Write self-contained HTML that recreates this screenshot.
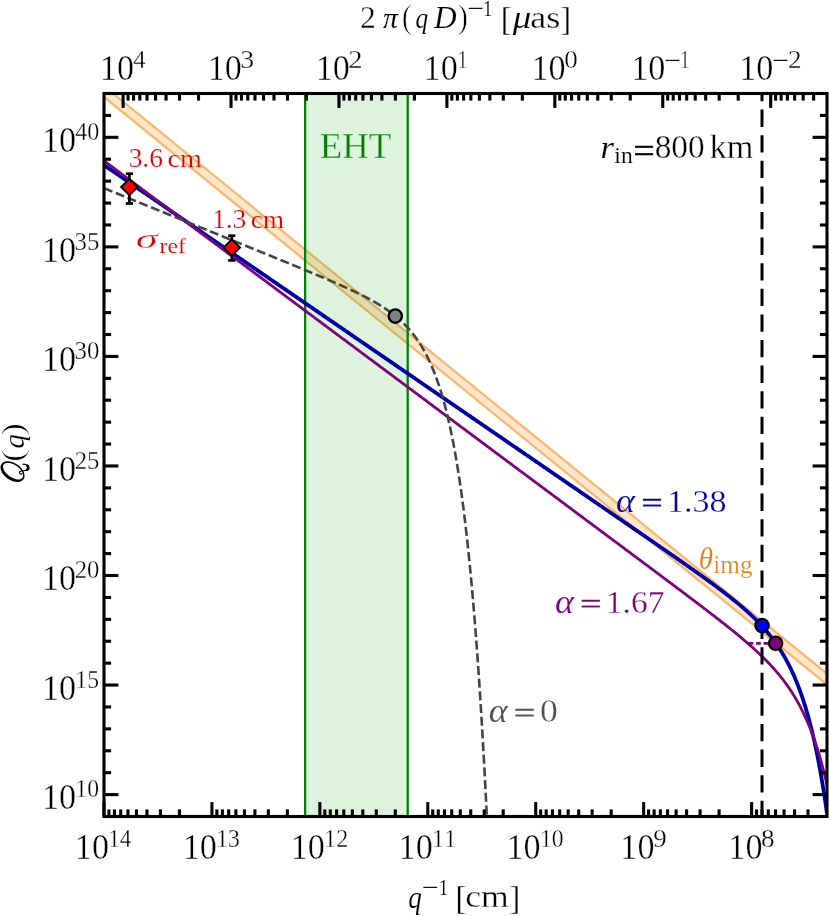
<!DOCTYPE html>
<html><head><meta charset="utf-8"><title>Q(q) power spectrum</title>
<style>html,body{margin:0;padding:0;background:#fff;}body{width:830px;height:916px;overflow:hidden;font-family:"Liberation Serif",serif;}svg{display:block;position:absolute;left:0;top:0;will-change:transform;}</style></head>
<body>
<svg width="830" height="916" viewBox="0 0 830 916">
<defs><clipPath id="ax"><rect x="104.00" y="93.50" width="723.00" height="723.00"/></clipPath></defs>
<g clip-path="url(#ax)">
<polygon points="84.00,69.91 847.00,690.00 847.00,700.82 84.00,80.73" fill="#ffe6cc"/>
<line x1="84.00" y1="69.91" x2="847.00" y2="690.00" stroke="#ffb366" stroke-width="2.2"/>
<line x1="84.00" y1="80.73" x2="847.00" y2="700.82" stroke="#ffb366" stroke-width="2.2"/>
<rect x="305.10" y="88.50" width="102.60" height="733.00" fill="#00a500" fill-opacity="0.135"/>
<line x1="305.10" y1="88.50" x2="305.10" y2="821.50" stroke="#008000" stroke-width="2.3"/>
<line x1="407.70" y1="88.50" x2="407.70" y2="821.50" stroke="#008000" stroke-width="2.3"/>
<polyline points="104.00,165.10 105.20,165.93 106.41,166.75 107.61,167.58 108.82,168.41 110.03,169.23 111.23,170.06 112.44,170.89 113.64,171.71 114.84,172.54 116.05,173.37 117.25,174.19 118.46,175.02 119.66,175.85 120.87,176.67 122.08,177.50 123.28,178.33 124.48,179.15 125.69,179.98 126.89,180.81 128.10,181.64 129.31,182.46 130.51,183.29 131.72,184.12 132.92,184.94 134.12,185.77 135.33,186.60 136.53,187.42 137.74,188.25 138.94,189.08 140.15,189.90 141.35,190.73 142.56,191.56 143.76,192.38 144.97,193.21 146.18,194.04 147.38,194.86 148.59,195.69 149.79,196.52 151.00,197.34 152.20,198.17 153.41,199.00 154.61,199.82 155.81,200.65 157.02,201.48 158.22,202.30 159.43,203.13 160.63,203.96 161.84,204.78 163.05,205.61 164.25,206.44 165.45,207.26 166.66,208.09 167.87,208.92 169.07,209.74 170.28,210.57 171.48,211.40 172.69,212.22 173.89,213.05 175.09,213.88 176.30,214.71 177.50,215.53 178.71,216.36 179.92,217.19 181.12,218.01 182.32,218.84 183.53,219.67 184.74,220.49 185.94,221.32 187.14,222.15 188.35,222.97 189.56,223.80 190.76,224.63 191.97,225.45 193.17,226.28 194.38,227.11 195.58,227.93 196.78,228.76 197.99,229.59 199.19,230.41 200.40,231.24 201.61,232.07 202.81,232.89 204.01,233.72 205.22,234.55 206.43,235.37 207.63,236.20 208.83,237.03 210.04,237.85 211.25,238.68 212.45,239.51 213.66,240.33 214.86,241.16 216.06,241.99 217.27,242.81 218.47,243.64 219.68,244.47 220.88,245.29 222.09,246.12 223.30,246.95 224.50,247.78 225.70,248.60 226.91,249.43 228.12,250.26 229.32,251.08 230.53,251.91 231.73,252.74 232.94,253.56 234.14,254.39 235.34,255.22 236.55,256.04 237.75,256.87 238.96,257.70 240.16,258.52 241.37,259.35 242.57,260.18 243.78,261.00 244.99,261.83 246.19,262.66 247.40,263.48 248.60,264.31 249.81,265.14 251.01,265.96 252.22,266.79 253.42,267.62 254.62,268.44 255.83,269.27 257.03,270.10 258.24,270.92 259.44,271.75 260.65,272.58 261.86,273.40 263.06,274.23 264.26,275.06 265.47,275.88 266.68,276.71 267.88,277.54 269.09,278.36 270.29,279.19 271.50,280.02 272.70,280.85 273.90,281.67 275.11,282.50 276.31,283.33 277.52,284.15 278.73,284.98 279.93,285.81 281.13,286.63 282.34,287.46 283.54,288.29 284.75,289.11 285.96,289.94 287.16,290.77 288.37,291.59 289.57,292.42 290.77,293.25 291.98,294.07 293.19,294.90 294.39,295.73 295.60,296.55 296.80,297.38 298.00,298.21 299.21,299.03 300.41,299.86 301.62,300.69 302.82,301.51 304.03,302.34 305.24,303.17 306.44,303.99 307.64,304.82 308.85,305.65 310.06,306.47 311.26,307.30 312.47,308.13 313.67,308.95 314.88,309.78 316.08,310.61 317.28,311.43 318.49,312.26 319.69,313.09 320.90,313.92 322.11,314.74 323.31,315.57 324.51,316.40 325.72,317.22 326.93,318.05 328.13,318.88 329.34,319.70 330.54,320.53 331.75,321.36 332.95,322.18 334.15,323.01 335.36,323.84 336.56,324.66 337.77,325.49 338.98,326.32 340.18,327.14 341.38,327.97 342.59,328.80 343.79,329.62 345.00,330.45 346.21,331.28 347.41,332.10 348.62,332.93 349.82,333.76 351.02,334.58 352.23,335.41 353.44,336.24 354.64,337.06 355.85,337.89 357.05,338.72 358.25,339.54 359.46,340.37 360.67,341.20 361.87,342.02 363.07,342.85 364.28,343.68 365.49,344.50 366.69,345.33 367.89,346.16 369.10,346.99 370.31,347.81 371.51,348.64 372.71,349.47 373.92,350.29 375.12,351.12 376.33,351.95 377.54,352.77 378.74,353.60 379.94,354.43 381.15,355.25 382.36,356.08 383.56,356.91 384.76,357.73 385.97,358.56 387.18,359.39 388.38,360.21 389.58,361.04 390.79,361.87 392.00,362.69 393.20,363.52 394.40,364.35 395.61,365.17 396.81,366.00 398.02,366.83 399.23,367.65 400.43,368.48 401.63,369.31 402.84,370.13 404.05,370.96 405.25,371.79 406.45,372.61 407.66,373.44 408.87,374.27 410.07,375.09 411.27,375.92 412.48,376.75 413.69,377.57 414.89,378.40 416.10,379.23 417.30,380.06 418.50,380.88 419.71,381.71 420.92,382.54 422.12,383.36 423.32,384.19 424.53,385.02 425.74,385.84 426.94,386.67 428.14,387.50 429.35,388.32 430.56,389.15 431.76,389.98 432.96,390.80 434.17,391.63 435.38,392.46 436.58,393.28 437.79,394.11 438.99,394.94 440.19,395.76 441.40,396.59 442.61,397.42 443.81,398.24 445.01,399.07 446.22,399.90 447.43,400.72 448.63,401.55 449.83,402.38 451.04,403.20 452.25,404.03 453.45,404.86 454.65,405.68 455.86,406.51 457.06,407.34 458.27,408.16 459.48,408.99 460.68,409.82 461.88,410.64 463.09,411.47 464.30,412.30 465.50,413.13 466.70,413.95 467.91,414.78 469.12,415.61 470.32,416.43 471.52,417.26 472.73,418.09 473.94,418.91 475.14,419.74 476.35,420.57 477.55,421.39 478.75,422.22 479.96,423.05 481.17,423.87 482.37,424.70 483.57,425.53 484.78,426.35 485.99,427.18 487.19,428.01 488.39,428.83 489.60,429.66 490.81,430.49 492.01,431.31 493.21,432.14 494.42,432.97 495.62,433.79 496.83,434.62 498.04,435.45 499.24,436.27 500.44,437.10 501.65,437.93 502.86,438.75 504.06,439.58 505.26,440.41 506.47,441.23 507.68,442.06 508.88,442.89 510.08,443.72 511.29,444.54 512.50,445.37 513.70,446.20 514.90,447.02 516.11,447.85 517.32,448.68 518.52,449.50 519.73,450.33 520.93,451.16 522.13,451.98 523.34,452.81 524.55,453.64 525.75,454.46 526.95,455.29 528.16,456.12 529.37,456.94 530.57,457.77 531.77,458.60 532.98,459.42 534.18,460.25 535.39,461.08 536.60,461.90 537.80,462.73 539.00,463.56 540.21,464.38 541.41,465.21 542.62,466.04 543.83,466.86 545.03,467.69 546.24,468.52 547.44,469.35 548.64,470.17 549.85,471.00 551.06,471.83 552.26,472.65 553.46,473.48 554.67,474.31 555.88,475.13 557.08,475.96 558.29,476.79 559.49,477.61 560.69,478.44 561.90,479.27 563.11,480.09 564.31,480.92 565.51,481.75 566.72,482.57 567.92,483.40 569.13,484.23 570.34,485.06 571.54,485.88 572.75,486.71 573.95,487.54 575.15,488.36 576.36,489.19 577.57,490.02 578.77,490.84 579.98,491.67 581.18,492.50 582.38,493.32 583.59,494.15 584.80,494.98 586.00,495.81 587.20,496.63 588.41,497.46 589.62,498.29 590.82,499.11 592.02,499.94 593.23,500.77 594.43,501.59 595.64,502.42 596.85,503.25 598.05,504.08 599.25,504.90 600.46,505.73 601.66,506.56 602.87,507.39 604.08,508.21 605.28,509.04 606.49,509.87 607.69,510.69 608.89,511.52 610.10,512.35 611.31,513.18 612.51,514.00 613.71,514.83 614.92,515.66 616.12,516.49 617.33,517.32 618.53,518.14 619.74,518.97 620.95,519.80 622.15,520.63 623.36,521.46 624.56,522.28 625.76,523.11 626.97,523.94 628.17,524.77 629.38,525.60 630.59,526.42 631.79,527.25 633.00,528.08 634.20,528.91 635.40,529.74 636.61,530.57 637.82,531.40 639.02,532.23 640.23,533.06 641.43,533.89 642.63,534.72 643.84,535.55 645.04,536.38 646.25,537.21 647.46,538.04 648.66,538.87 649.87,539.70 651.07,540.53 652.27,541.36 653.48,542.19 654.68,543.02 655.89,543.85 657.10,544.69 658.30,545.52 659.50,546.35 660.71,547.19 661.91,548.02 663.12,548.85 664.33,549.69 665.53,550.52 666.74,551.36 667.94,552.19 669.14,553.03 670.35,553.86 671.55,554.70 672.76,555.54 673.97,556.38 675.17,557.21 676.38,558.05 677.58,558.89 678.78,559.73 679.99,560.57 681.20,561.42 682.40,562.26 683.61,563.10 684.81,563.95 686.01,564.79 687.22,565.64 688.42,566.49 689.63,567.33 690.84,568.18 692.04,569.04 693.25,569.89 694.45,570.74 695.65,571.60 696.86,572.45 698.07,573.31 699.27,574.17 700.48,575.03 701.68,575.89 702.88,576.76 704.09,577.63 705.29,578.50 706.50,579.37 707.71,580.24 708.91,581.12 710.12,582.00 711.32,582.88 712.52,583.76 713.73,584.65 714.93,585.54 716.14,586.43 717.35,587.33 718.55,588.23 719.75,589.14 720.96,590.05 722.16,590.96 723.37,591.88 724.58,592.80 725.78,593.73 726.99,594.67 728.19,595.61 729.39,596.55 730.60,597.50 731.80,598.46 733.01,599.43 734.22,600.40 735.42,601.38 736.62,602.37 737.83,603.36 739.03,604.37 740.24,605.38 741.45,606.41 742.65,607.44 743.86,608.49 745.06,609.55 746.26,610.62 747.47,611.70 748.67,612.80 749.88,613.91 751.09,615.04 752.29,616.18 753.50,617.34 754.70,618.51 755.90,619.71 757.11,620.92 758.32,622.16 759.52,623.41 760.73,624.69 761.93,625.99 763.13,627.32 764.34,628.67 765.54,630.05 766.75,631.47 767.96,632.91 769.16,634.38 770.37,635.89 771.57,637.43 772.77,639.02 773.98,640.64 775.18,642.30 776.39,644.01 777.60,645.76 778.80,647.57 780.00,649.42 781.21,651.33 782.41,653.30 783.62,655.32 784.83,657.41 786.03,659.57 787.24,661.79 788.44,664.09 789.64,666.47 790.85,668.93 792.05,671.48 793.26,674.12 794.47,676.85 795.67,679.68 796.88,682.62 798.08,685.67 799.28,688.84 800.49,692.13 801.70,695.55 802.90,699.10 804.11,702.81 805.31,706.66 806.51,710.67 807.72,714.85 808.92,719.21 810.13,723.76 811.34,728.50 812.54,733.44 813.75,738.61 814.95,744.00 816.15,749.63 817.36,755.52 818.57,761.68 819.77,768.11 820.98,774.84 822.18,781.89 823.38,789.26 824.59,796.98 825.79,805.06 827.00,813.52" fill="none" stroke="#0000a8" stroke-width="3.8" stroke-linejoin="round"/>
<polyline points="104.00,160.80 105.20,161.70 106.41,162.60 107.61,163.49 108.82,164.39 110.03,165.29 111.23,166.19 112.44,167.08 113.64,167.98 114.84,168.88 116.05,169.78 117.25,170.67 118.46,171.57 119.66,172.47 120.87,173.37 122.08,174.27 123.28,175.16 124.48,176.06 125.69,176.96 126.89,177.86 128.10,178.75 129.31,179.65 130.51,180.55 131.72,181.45 132.92,182.35 134.12,183.24 135.33,184.14 136.53,185.04 137.74,185.94 138.94,186.83 140.15,187.73 141.35,188.63 142.56,189.53 143.76,190.42 144.97,191.32 146.18,192.22 147.38,193.12 148.59,194.02 149.79,194.91 151.00,195.81 152.20,196.71 153.41,197.61 154.61,198.50 155.81,199.40 157.02,200.30 158.22,201.20 159.43,202.10 160.63,202.99 161.84,203.89 163.05,204.79 164.25,205.69 165.45,206.58 166.66,207.48 167.87,208.38 169.07,209.28 170.28,210.17 171.48,211.07 172.69,211.97 173.89,212.87 175.09,213.77 176.30,214.66 177.50,215.56 178.71,216.46 179.92,217.36 181.12,218.25 182.32,219.15 183.53,220.05 184.74,220.95 185.94,221.85 187.14,222.74 188.35,223.64 189.56,224.54 190.76,225.44 191.97,226.33 193.17,227.23 194.38,228.13 195.58,229.03 196.78,229.92 197.99,230.82 199.19,231.72 200.40,232.62 201.61,233.52 202.81,234.41 204.01,235.31 205.22,236.21 206.43,237.11 207.63,238.00 208.83,238.90 210.04,239.80 211.25,240.70 212.45,241.60 213.66,242.49 214.86,243.39 216.06,244.29 217.27,245.19 218.47,246.08 219.68,246.98 220.88,247.88 222.09,248.78 223.30,249.67 224.50,250.57 225.70,251.47 226.91,252.37 228.12,253.27 229.32,254.16 230.53,255.06 231.73,255.96 232.94,256.86 234.14,257.75 235.34,258.65 236.55,259.55 237.75,260.45 238.96,261.35 240.16,262.24 241.37,263.14 242.57,264.04 243.78,264.94 244.99,265.83 246.19,266.73 247.40,267.63 248.60,268.53 249.81,269.42 251.01,270.32 252.22,271.22 253.42,272.12 254.62,273.02 255.83,273.91 257.03,274.81 258.24,275.71 259.44,276.61 260.65,277.50 261.86,278.40 263.06,279.30 264.26,280.20 265.47,281.10 266.68,281.99 267.88,282.89 269.09,283.79 270.29,284.69 271.50,285.58 272.70,286.48 273.90,287.38 275.11,288.28 276.31,289.17 277.52,290.07 278.73,290.97 279.93,291.87 281.13,292.77 282.34,293.66 283.54,294.56 284.75,295.46 285.96,296.36 287.16,297.25 288.37,298.15 289.57,299.05 290.77,299.95 291.98,300.85 293.19,301.74 294.39,302.64 295.60,303.54 296.80,304.44 298.00,305.33 299.21,306.23 300.41,307.13 301.62,308.03 302.82,308.92 304.03,309.82 305.24,310.72 306.44,311.62 307.64,312.52 308.85,313.41 310.06,314.31 311.26,315.21 312.47,316.11 313.67,317.00 314.88,317.90 316.08,318.80 317.28,319.70 318.49,320.60 319.69,321.49 320.90,322.39 322.11,323.29 323.31,324.19 324.51,325.08 325.72,325.98 326.93,326.88 328.13,327.78 329.34,328.67 330.54,329.57 331.75,330.47 332.95,331.37 334.15,332.27 335.36,333.16 336.56,334.06 337.77,334.96 338.98,335.86 340.18,336.75 341.38,337.65 342.59,338.55 343.79,339.45 345.00,340.35 346.21,341.24 347.41,342.14 348.62,343.04 349.82,343.94 351.02,344.83 352.23,345.73 353.44,346.63 354.64,347.53 355.85,348.42 357.05,349.32 358.25,350.22 359.46,351.12 360.67,352.02 361.87,352.91 363.07,353.81 364.28,354.71 365.49,355.61 366.69,356.50 367.89,357.40 369.10,358.30 370.31,359.20 371.51,360.09 372.71,360.99 373.92,361.89 375.12,362.79 376.33,363.69 377.54,364.58 378.74,365.48 379.94,366.38 381.15,367.28 382.36,368.17 383.56,369.07 384.76,369.97 385.97,370.87 387.18,371.77 388.38,372.66 389.58,373.56 390.79,374.46 392.00,375.36 393.20,376.25 394.40,377.15 395.61,378.05 396.81,378.95 398.02,379.84 399.23,380.74 400.43,381.64 401.63,382.54 402.84,383.44 404.05,384.33 405.25,385.23 406.45,386.13 407.66,387.03 408.87,387.92 410.07,388.82 411.27,389.72 412.48,390.62 413.69,391.52 414.89,392.41 416.10,393.31 417.30,394.21 418.50,395.11 419.71,396.00 420.92,396.90 422.12,397.80 423.32,398.70 424.53,399.59 425.74,400.49 426.94,401.39 428.14,402.29 429.35,403.19 430.56,404.08 431.76,404.98 432.96,405.88 434.17,406.78 435.38,407.67 436.58,408.57 437.79,409.47 438.99,410.37 440.19,411.27 441.40,412.16 442.61,413.06 443.81,413.96 445.01,414.86 446.22,415.75 447.43,416.65 448.63,417.55 449.83,418.45 451.04,419.34 452.25,420.24 453.45,421.14 454.65,422.04 455.86,422.94 457.06,423.83 458.27,424.73 459.48,425.63 460.68,426.53 461.88,427.42 463.09,428.32 464.30,429.22 465.50,430.12 466.70,431.02 467.91,431.91 469.12,432.81 470.32,433.71 471.52,434.61 472.73,435.50 473.94,436.40 475.14,437.30 476.35,438.20 477.55,439.09 478.75,439.99 479.96,440.89 481.17,441.79 482.37,442.69 483.57,443.58 484.78,444.48 485.99,445.38 487.19,446.28 488.39,447.17 489.60,448.07 490.81,448.97 492.01,449.87 493.21,450.77 494.42,451.66 495.62,452.56 496.83,453.46 498.04,454.36 499.24,455.25 500.44,456.15 501.65,457.05 502.86,457.95 504.06,458.84 505.26,459.74 506.47,460.64 507.68,461.54 508.88,462.44 510.08,463.33 511.29,464.23 512.50,465.13 513.70,466.03 514.90,466.92 516.11,467.82 517.32,468.72 518.52,469.62 519.73,470.52 520.93,471.41 522.13,472.31 523.34,473.21 524.55,474.11 525.75,475.00 526.95,475.90 528.16,476.80 529.37,477.70 530.57,478.59 531.77,479.49 532.98,480.39 534.18,481.29 535.39,482.19 536.60,483.08 537.80,483.98 539.00,484.88 540.21,485.78 541.41,486.67 542.62,487.57 543.83,488.47 545.03,489.37 546.24,490.27 547.44,491.16 548.64,492.06 549.85,492.96 551.06,493.86 552.26,494.75 553.46,495.65 554.67,496.55 555.88,497.45 557.08,498.35 558.29,499.24 559.49,500.14 560.69,501.04 561.90,501.94 563.11,502.83 564.31,503.73 565.51,504.63 566.72,505.53 567.92,506.43 569.13,507.32 570.34,508.22 571.54,509.12 572.75,510.02 573.95,510.91 575.15,511.81 576.36,512.71 577.57,513.61 578.77,514.51 579.98,515.40 581.18,516.30 582.38,517.20 583.59,518.10 584.80,519.00 586.00,519.89 587.20,520.79 588.41,521.69 589.62,522.59 590.82,523.48 592.02,524.38 593.23,525.28 594.43,526.18 595.64,527.08 596.85,527.97 598.05,528.87 599.25,529.77 600.46,530.67 601.66,531.57 602.87,532.46 604.08,533.36 605.28,534.26 606.49,535.16 607.69,536.06 608.89,536.95 610.10,537.85 611.31,538.75 612.51,539.65 613.71,540.55 614.92,541.45 616.12,542.34 617.33,543.24 618.53,544.14 619.74,545.04 620.95,545.94 622.15,546.84 623.36,547.73 624.56,548.63 625.76,549.53 626.97,550.43 628.17,551.33 629.38,552.23 630.59,553.13 631.79,554.02 633.00,554.92 634.20,555.82 635.40,556.72 636.61,557.62 637.82,558.52 639.02,559.42 640.23,560.32 641.43,561.22 642.63,562.12 643.84,563.02 645.04,563.91 646.25,564.81 647.46,565.71 648.66,566.61 649.87,567.51 651.07,568.41 652.27,569.31 653.48,570.21 654.68,571.12 655.89,572.02 657.10,572.92 658.30,573.82 659.50,574.72 660.71,575.62 661.91,576.52 663.12,577.42 664.33,578.32 665.53,579.23 666.74,580.13 667.94,581.03 669.14,581.93 670.35,582.84 671.55,583.74 672.76,584.64 673.97,585.55 675.17,586.45 676.38,587.36 677.58,588.26 678.78,589.17 679.99,590.07 681.20,590.98 682.40,591.89 683.61,592.79 684.81,593.70 686.01,594.61 687.22,595.52 688.42,596.43 689.63,597.34 690.84,598.25 692.04,599.16 693.25,600.07 694.45,600.98 695.65,601.90 696.86,602.81 698.07,603.73 699.27,604.64 700.48,605.56 701.68,606.48 702.88,607.40 704.09,608.32 705.29,609.24 706.50,610.16 707.71,611.09 708.91,612.01 710.12,612.94 711.32,613.87 712.52,614.80 713.73,615.73 714.93,616.66 716.14,617.60 717.35,618.53 718.55,619.47 719.75,620.42 720.96,621.36 722.16,622.31 723.37,623.26 724.58,624.21 725.78,625.16 726.99,626.12 728.19,627.08 729.39,628.04 730.60,629.01 731.80,629.98 733.01,630.96 734.22,631.94 735.42,632.92 736.62,633.91 737.83,634.90 739.03,635.90 740.24,636.90 741.45,637.91 742.65,638.93 743.86,639.95 745.06,640.97 746.26,642.01 747.47,643.05 748.67,644.10 749.88,645.16 751.09,646.22 752.29,647.30 753.50,648.38 754.70,649.47 755.90,650.58 757.11,651.69 758.32,652.82 759.52,653.95 760.73,655.10 761.93,656.27 763.13,657.45 764.34,658.64 765.54,659.85 766.75,661.07 767.96,662.31 769.16,663.57 770.37,664.85 771.57,666.15 772.77,667.47 773.98,668.81 775.18,670.18 776.39,671.57 777.60,672.99 778.80,674.43 780.00,675.91 781.21,677.41 782.41,678.95 783.62,680.51 784.83,682.12 786.03,683.76 787.24,685.44 788.44,687.16 789.64,688.93 790.85,690.74 792.05,692.60 793.26,694.51 794.47,696.48 795.67,698.50 796.88,700.58 798.08,702.72 799.28,704.93 800.49,707.20 801.70,709.55 802.90,711.98 804.11,714.49 805.31,717.08 806.51,719.76 807.72,722.53 808.92,725.41 810.13,728.39 811.34,731.48 812.54,734.68 813.75,738.01 814.95,741.46 816.15,745.05 817.36,748.78 818.57,752.66 819.77,756.70 820.98,760.90 822.18,765.28 823.38,769.84 824.59,774.59 825.79,779.55 827.00,784.72" fill="none" stroke="#800080" stroke-width="2.8" stroke-linejoin="round"/>
<polyline points="104.00,188.20 104.48,188.40 104.96,188.59 105.45,188.79 105.93,188.98 106.41,189.18 106.89,189.37 107.37,189.57 107.86,189.77 108.34,189.96 108.82,190.16 109.30,190.35 109.78,190.55 110.27,190.74 110.75,190.94 111.23,191.14 111.71,191.33 112.19,191.53 112.68,191.72 113.16,191.92 113.64,192.11 114.12,192.31 114.60,192.51 115.09,192.70 115.57,192.90 116.05,193.09 116.53,193.29 117.01,193.48 117.50,193.68 117.98,193.88 118.46,194.07 118.94,194.27 119.42,194.46 119.91,194.66 120.39,194.85 120.87,195.05 121.35,195.24 121.83,195.44 122.32,195.64 122.80,195.83 123.28,196.03 123.76,196.22 124.24,196.42 124.73,196.61 125.21,196.81 125.69,197.01 126.17,197.20 126.65,197.40 127.14,197.59 127.62,197.79 128.10,197.98 128.58,198.18 129.06,198.38 129.55,198.57 130.03,198.77 130.51,198.96 130.99,199.16 131.47,199.35 131.96,199.55 132.44,199.75 132.92,199.94 133.40,200.14 133.88,200.33 134.37,200.53 134.85,200.72 135.33,200.92 135.81,201.12 136.29,201.31 136.78,201.51 137.26,201.70 137.74,201.90 138.22,202.09 138.70,202.29 139.19,202.49 139.67,202.68 140.15,202.88 140.63,203.07 141.11,203.27 141.60,203.46 142.08,203.66 142.56,203.86 143.04,204.05 143.52,204.25 144.01,204.44 144.49,204.64 144.97,204.83 145.45,205.03 145.93,205.23 146.42,205.42 146.90,205.62 147.38,205.81 147.86,206.01 148.34,206.20 148.83,206.40 149.31,206.60 149.79,206.79 150.27,206.99 150.75,207.18 151.24,207.38 151.72,207.57 152.20,207.77 152.68,207.97 153.16,208.16 153.65,208.36 154.13,208.55 154.61,208.75 155.09,208.94 155.57,209.14 156.06,209.34 156.54,209.53 157.02,209.73 157.50,209.92 157.98,210.12 158.47,210.31 158.95,210.51 159.43,210.70 159.91,210.90 160.39,211.10 160.88,211.29 161.36,211.49 161.84,211.68 162.32,211.88 162.80,212.07 163.29,212.27 163.77,212.47 164.25,212.66 164.73,212.86 165.21,213.05 165.70,213.25 166.18,213.44 166.66,213.64 167.14,213.84 167.62,214.03 168.11,214.23 168.59,214.42 169.07,214.62 169.55,214.81 170.03,215.01 170.52,215.21 171.00,215.40 171.48,215.60 171.96,215.79 172.44,215.99 172.93,216.18 173.41,216.38 173.89,216.58 174.37,216.77 174.85,216.97 175.34,217.16 175.82,217.36 176.30,217.55 176.78,217.75 177.26,217.95 177.75,218.14 178.23,218.34 178.71,218.53 179.19,218.73 179.67,218.92 180.16,219.12 180.64,219.32 181.12,219.51 181.60,219.71 182.08,219.90 182.57,220.10 183.05,220.29 183.53,220.49 184.01,220.69 184.49,220.88 184.98,221.08 185.46,221.27 185.94,221.47 186.42,221.66 186.90,221.86 187.39,222.06 187.87,222.25 188.35,222.45 188.83,222.64 189.31,222.84 189.80,223.03 190.28,223.23 190.76,223.43 191.24,223.62 191.72,223.82 192.21,224.01 192.69,224.21 193.17,224.40 193.65,224.60 194.13,224.80 194.62,224.99 195.10,225.19 195.58,225.38 196.06,225.58 196.54,225.77 197.03,225.97 197.51,226.17 197.99,226.36 198.47,226.56 198.95,226.75 199.44,226.95 199.92,227.14 200.40,227.34 200.88,227.54 201.36,227.73 201.85,227.93 202.33,228.12 202.81,228.32 203.29,228.52 203.77,228.71 204.26,228.91 204.74,229.10 205.22,229.30 205.70,229.49 206.18,229.69 206.67,229.89 207.15,230.08 207.63,230.28 208.11,230.47 208.59,230.67 209.08,230.86 209.56,231.06 210.04,231.26 210.52,231.45 211.00,231.65 211.49,231.84 211.97,232.04 212.45,232.23 212.93,232.43 213.41,232.63 213.90,232.82 214.38,233.02 214.86,233.21 215.34,233.41 215.82,233.61 216.31,233.80 216.79,234.00 217.27,234.19 217.75,234.39 218.23,234.58 218.72,234.78 219.20,234.98 219.68,235.17 220.16,235.37 220.64,235.56 221.13,235.76 221.61,235.95 222.09,236.15 222.57,236.35 223.05,236.54 223.54,236.74 224.02,236.93 224.50,237.13 224.98,237.33 225.46,237.52 225.95,237.72 226.43,237.91 226.91,238.11 227.39,238.30 227.87,238.50 228.36,238.70 228.84,238.89 229.32,239.09 229.80,239.28 230.28,239.48 230.77,239.68 231.25,239.87 231.73,240.07 232.21,240.26 232.69,240.46 233.18,240.65 233.66,240.85 234.14,241.05 234.62,241.24 235.10,241.44 235.59,241.63 236.07,241.83 236.55,242.03 237.03,242.22 237.51,242.42 238.00,242.61 238.48,242.81 238.96,243.01 239.44,243.20 239.92,243.40 240.41,243.59 240.89,243.79 241.37,243.99 241.85,244.18 242.33,244.38 242.82,244.57 243.30,244.77 243.78,244.97 244.26,245.16 244.74,245.36 245.23,245.55 245.71,245.75 246.19,245.95 246.67,246.14 247.15,246.34 247.64,246.53 248.12,246.73 248.60,246.93 249.08,247.12 249.56,247.32 250.05,247.51 250.53,247.71 251.01,247.91 251.49,248.10 251.97,248.30 252.46,248.49 252.94,248.69 253.42,248.89 253.90,249.08 254.38,249.28 254.87,249.48 255.35,249.67 255.83,249.87 256.31,250.06 256.79,250.26 257.28,250.46 257.76,250.65 258.24,250.85 258.72,251.05 259.20,251.24 259.69,251.44 260.17,251.63 260.65,251.83 261.13,252.03 261.61,252.22 262.10,252.42 262.58,252.62 263.06,252.81 263.54,253.01 264.02,253.20 264.51,253.40 264.99,253.60 265.47,253.79 265.95,253.99 266.43,254.19 266.92,254.38 267.40,254.58 267.88,254.78 268.36,254.97 268.84,255.17 269.33,255.37 269.81,255.56 270.29,255.76 270.77,255.96 271.25,256.15 271.74,256.35 272.22,256.55 272.70,256.74 273.18,256.94 273.66,257.14 274.15,257.33 274.63,257.53 275.11,257.73 275.59,257.92 276.07,258.12 276.56,258.32 277.04,258.51 277.52,258.71 278.00,258.91 278.48,259.11 278.97,259.30 279.45,259.50 279.93,259.70 280.41,259.89 280.89,260.09 281.38,260.29 281.86,260.49 282.34,260.68 282.82,260.88 283.30,261.08 283.79,261.27 284.27,261.47 284.75,261.67 285.23,261.87 285.71,262.06 286.20,262.26 286.68,262.46 287.16,262.66 287.64,262.85 288.12,263.05 288.61,263.25 289.09,263.45 289.57,263.65 290.05,263.84 290.53,264.04 291.02,264.24 291.50,264.44 291.98,264.64 292.46,264.83 292.94,265.03 293.43,265.23 293.91,265.43 294.39,265.63 294.87,265.83 295.35,266.02 295.84,266.22 296.32,266.42 296.80,266.62 297.28,266.82 297.76,267.02 298.25,267.22 298.73,267.41 299.21,267.61 299.69,267.81 300.17,268.01 300.66,268.21 301.14,268.41 301.62,268.61 302.10,268.81 302.58,269.01 303.07,269.21 303.55,269.41 304.03,269.61 304.51,269.81 304.99,270.01 305.48,270.21 305.96,270.41 306.44,270.61 306.92,270.81 307.40,271.01 307.89,271.21 308.37,271.41 308.85,271.61 309.33,271.81 309.81,272.01 310.30,272.21 310.78,272.41 311.26,272.61 311.74,272.81 312.22,273.01 312.71,273.22 313.19,273.42 313.67,273.62 314.15,273.82 314.63,274.02 315.12,274.22 315.60,274.43 316.08,274.63 316.56,274.83 317.04,275.03 317.53,275.24 318.01,275.44 318.49,275.64 318.97,275.85 319.45,276.05 319.94,276.25 320.42,276.46 320.90,276.66 321.38,276.86 321.86,277.07 322.35,277.27 322.83,277.48 323.31,277.68 323.79,277.89 324.27,278.09 324.76,278.30 325.24,278.50 325.72,278.71 326.20,278.91 326.68,279.12 327.17,279.33 327.65,279.53 328.13,279.74 328.61,279.95 329.09,280.15 329.58,280.36 330.06,280.57 330.54,280.78 331.02,280.98 331.50,281.19 331.99,281.40 332.47,281.61 332.95,281.82 333.43,282.03 333.91,282.24 334.40,282.45 334.88,282.66 335.36,282.87 335.84,283.08 336.32,283.29 336.81,283.50 337.29,283.72 337.77,283.93 338.25,284.14 338.73,284.35 339.22,284.57 339.70,284.78 340.18,284.99 340.66,285.21 341.14,285.42 341.63,285.64 342.11,285.86 342.59,286.07 343.07,286.29 343.55,286.50 344.04,286.72 344.52,286.94 345.00,287.16 345.48,287.38 345.96,287.60 346.45,287.82 346.93,288.04 347.41,288.26 347.89,288.48 348.37,288.70 348.86,288.92 349.34,289.15 349.82,289.37 350.30,289.59 350.78,289.82 351.27,290.04 351.75,290.27 352.23,290.50 352.71,290.72 353.19,290.95 353.68,291.18 354.16,291.41 354.64,291.64 355.12,291.87 355.60,292.10 356.09,292.33 356.57,292.57 357.05,292.80 357.53,293.03 358.01,293.27 358.50,293.50 358.98,293.74 359.46,293.98 359.94,294.22 360.42,294.46 360.91,294.70 361.39,294.94 361.87,295.18 362.35,295.42 362.83,295.67 363.32,295.91 363.80,296.16 364.28,296.41 364.76,296.65 365.24,296.90 365.73,297.15 366.21,297.41 366.69,297.66 367.17,297.91 367.65,298.17 368.14,298.42 368.62,298.68 369.10,298.94 369.58,299.20 370.06,299.46 370.55,299.73 371.03,299.99 371.51,300.26 371.99,300.52 372.47,300.79 372.96,301.06 373.44,301.34 373.92,301.61 374.40,301.88 374.88,302.16 375.37,302.44 375.85,302.72 376.33,303.00 376.81,303.28 377.29,303.57 377.78,303.86 378.26,304.15 378.74,304.44 379.22,304.73 379.70,305.03 380.19,305.32 380.67,305.62 381.15,305.93 381.63,306.23 382.11,306.54 382.60,306.84 383.08,307.15 383.56,307.47 384.04,307.78 384.52,308.10 385.01,308.42 385.49,308.74 385.97,309.07 386.45,309.40 386.93,309.73 387.42,310.06 387.90,310.40 388.38,310.74 388.86,311.08 389.34,311.43 389.83,311.78 390.31,312.13 390.79,312.49 391.27,312.84 391.75,313.21 392.24,313.57 392.72,313.94 393.20,314.31 393.68,314.69 394.16,315.07 394.65,315.46 395.13,315.84 395.61,316.24 396.09,316.63 396.57,317.03 397.06,317.44 397.54,317.84 398.02,318.26 398.50,318.68 398.98,319.10 399.47,319.53 399.95,319.96 400.43,320.39 400.91,320.84 401.39,321.28 401.88,321.73 402.36,322.19 402.84,322.65 403.32,323.12 403.80,323.60 404.29,324.08 404.77,324.56 405.25,325.05 405.73,325.55 406.21,326.06 406.70,326.57 407.18,327.09 407.66,327.61 408.14,328.14 408.62,328.68 409.11,329.22 409.59,329.77 410.07,330.33 410.55,330.90 411.03,331.48 411.52,332.06 412.00,332.65 412.48,333.25 412.96,333.85 413.44,334.47 413.93,335.09 414.41,335.73 414.89,336.37 415.37,337.02 415.85,337.68 416.34,338.35 416.82,339.04 417.30,339.73 417.78,340.43 418.26,341.14 418.75,341.86 419.23,342.59 419.71,343.34 420.19,344.10 420.67,344.86 421.16,345.64 421.64,346.43 422.12,347.24 422.60,348.05 423.08,348.88 423.57,349.73 424.05,350.58 424.53,351.45 425.01,352.34 425.49,353.23 425.98,354.15 426.46,355.07 426.94,356.02 427.42,356.98 427.90,357.95 428.39,358.94 428.87,359.95 429.35,360.97 429.83,362.01 430.31,363.07 430.80,364.15 431.28,365.24 431.76,366.36 432.24,367.49 432.72,368.64 433.21,369.81 433.69,371.00 434.17,372.22 434.65,373.45 435.13,374.71 435.62,375.98 436.10,377.28 436.58,378.61 437.06,379.95 437.54,381.32 438.03,382.72 438.51,384.14 438.99,385.58 439.47,387.05 439.95,388.55 440.44,390.08 440.92,391.63 441.40,393.21 441.88,394.82 442.36,396.46 442.85,398.13 443.33,399.82 443.81,401.55 444.29,403.32 444.77,405.11 445.26,406.94 445.74,408.80 446.22,410.70 446.70,412.63 447.18,414.60 447.67,416.60 448.15,418.65 448.63,420.73 449.11,422.85 449.59,425.01 450.08,427.21 450.56,429.45 451.04,431.73 451.52,434.06 452.00,436.44 452.49,438.85 452.97,441.32 453.45,443.83 453.93,446.39 454.41,449.00 454.90,451.66 455.38,454.36 455.86,457.13 456.34,459.94 456.82,462.81 457.31,465.74 457.79,468.72 458.27,471.76 458.75,474.86 459.23,478.02 459.72,481.24 460.20,484.52 460.68,487.87 461.16,491.28 461.64,494.76 462.13,498.31 462.61,501.93 463.09,505.62 463.57,509.38 464.05,513.22 464.54,517.13 465.02,521.12 465.50,525.19 465.98,529.34 466.46,533.57 466.95,537.88 467.43,542.28 467.91,546.77 468.39,551.34 468.87,556.01 469.36,560.77 469.84,565.63 470.32,570.58 470.80,575.63 471.28,580.78 471.77,586.03 472.25,591.39 472.73,596.86 473.21,602.44 473.69,608.13 474.18,613.93 474.66,619.85 475.14,625.89 475.62,632.05 476.10,638.33 476.59,644.74 477.07,651.28 477.55,657.95 478.03,664.75 478.51,671.70 479.00,678.78 479.48,686.00 479.96,693.38 480.44,700.90 480.92,708.57 481.41,716.40 481.89,724.39 482.37,732.53 482.85,740.85 483.33,749.33 483.82,757.99 484.30,766.82 484.78,775.83 485.26,785.02 485.74,794.40 486.23,803.97 486.71,813.74 487.19,823.71 487.67,833.87 488.15,844.25 488.64,854.84 489.12,865.64" fill="none" stroke="#444444" stroke-width="2.6" stroke-dasharray="9.0 3.7" stroke-linejoin="round"/>
<line x1="762.00" y1="818.10" x2="762.00" y2="63.50" stroke="#000" stroke-width="3.0" stroke-dasharray="17.3 8.3" stroke-dashoffset="0.00"/>
<line x1="748.6" y1="643.3" x2="775" y2="643.3" stroke="#800080" stroke-width="2.8" stroke-dasharray="4.7 2.8"/>
</g>
<circle cx="395.30" cy="316.10" r="6.65" fill="#808080" stroke="#000" stroke-width="2.3"/>
<circle cx="762.00" cy="625.60" r="6.65" fill="#0000ff" stroke="#000" stroke-width="2.3"/>
<circle cx="775.60" cy="643.30" r="6.65" fill="#800080" stroke="#000" stroke-width="2.3"/>
<g stroke="#000" stroke-width="2.7" fill="none">
<line x1="129.40" y1="173.70" x2="129.40" y2="203.50"/>
<line x1="125.80" y1="173.70" x2="133.00" y2="173.70"/>
<line x1="125.80" y1="203.50" x2="133.00" y2="203.50"/>
</g>
<polygon points="121.20,187.00 129.40,178.80 137.60,187.00 129.40,195.20" fill="#ff0000" stroke="#000" stroke-width="2.0" stroke-linejoin="miter"/>
<g stroke="#000" stroke-width="2.7" fill="none">
<line x1="231.80" y1="235.70" x2="231.80" y2="260.40"/>
<line x1="228.20" y1="235.70" x2="235.40" y2="235.70"/>
<line x1="228.20" y1="260.40" x2="235.40" y2="260.40"/>
</g>
<polygon points="223.60,247.60 231.80,239.40 240.00,247.60 231.80,255.80" fill="#ff0000" stroke="#000" stroke-width="2.0" stroke-linejoin="miter"/>
<g stroke="#000" stroke-width="3.10" fill="none" stroke-linecap="butt">
<rect x="104.00" y="93.50" width="723.00" height="723.00" stroke-linejoin="miter"/>
<line x1="104.00" y1="816.50" x2="104.00" y2="802.10"/>
<line x1="179.44" y1="816.50" x2="179.44" y2="809.40"/>
<line x1="160.43" y1="816.50" x2="160.43" y2="809.40"/>
<line x1="146.95" y1="816.50" x2="146.95" y2="809.40"/>
<line x1="136.49" y1="816.50" x2="136.49" y2="809.40"/>
<line x1="127.94" y1="816.50" x2="127.94" y2="809.40"/>
<line x1="120.72" y1="816.50" x2="120.72" y2="809.40"/>
<line x1="114.46" y1="816.50" x2="114.46" y2="809.40"/>
<line x1="108.94" y1="816.50" x2="108.94" y2="809.40"/>
<line x1="211.93" y1="816.50" x2="211.93" y2="802.10"/>
<line x1="287.37" y1="816.50" x2="287.37" y2="809.40"/>
<line x1="268.36" y1="816.50" x2="268.36" y2="809.40"/>
<line x1="254.88" y1="816.50" x2="254.88" y2="809.40"/>
<line x1="244.42" y1="816.50" x2="244.42" y2="809.40"/>
<line x1="235.87" y1="816.50" x2="235.87" y2="809.40"/>
<line x1="228.65" y1="816.50" x2="228.65" y2="809.40"/>
<line x1="222.39" y1="816.50" x2="222.39" y2="809.40"/>
<line x1="216.87" y1="816.50" x2="216.87" y2="809.40"/>
<line x1="319.86" y1="816.50" x2="319.86" y2="802.10"/>
<line x1="395.30" y1="816.50" x2="395.30" y2="809.40"/>
<line x1="376.29" y1="816.50" x2="376.29" y2="809.40"/>
<line x1="362.81" y1="816.50" x2="362.81" y2="809.40"/>
<line x1="352.35" y1="816.50" x2="352.35" y2="809.40"/>
<line x1="343.80" y1="816.50" x2="343.80" y2="809.40"/>
<line x1="336.58" y1="816.50" x2="336.58" y2="809.40"/>
<line x1="330.32" y1="816.50" x2="330.32" y2="809.40"/>
<line x1="324.80" y1="816.50" x2="324.80" y2="809.40"/>
<line x1="427.79" y1="816.50" x2="427.79" y2="802.10"/>
<line x1="503.23" y1="816.50" x2="503.23" y2="809.40"/>
<line x1="484.22" y1="816.50" x2="484.22" y2="809.40"/>
<line x1="470.74" y1="816.50" x2="470.74" y2="809.40"/>
<line x1="460.28" y1="816.50" x2="460.28" y2="809.40"/>
<line x1="451.73" y1="816.50" x2="451.73" y2="809.40"/>
<line x1="444.51" y1="816.50" x2="444.51" y2="809.40"/>
<line x1="438.25" y1="816.50" x2="438.25" y2="809.40"/>
<line x1="432.73" y1="816.50" x2="432.73" y2="809.40"/>
<line x1="535.72" y1="816.50" x2="535.72" y2="802.10"/>
<line x1="611.16" y1="816.50" x2="611.16" y2="809.40"/>
<line x1="592.15" y1="816.50" x2="592.15" y2="809.40"/>
<line x1="578.67" y1="816.50" x2="578.67" y2="809.40"/>
<line x1="568.21" y1="816.50" x2="568.21" y2="809.40"/>
<line x1="559.66" y1="816.50" x2="559.66" y2="809.40"/>
<line x1="552.44" y1="816.50" x2="552.44" y2="809.40"/>
<line x1="546.18" y1="816.50" x2="546.18" y2="809.40"/>
<line x1="540.66" y1="816.50" x2="540.66" y2="809.40"/>
<line x1="643.65" y1="816.50" x2="643.65" y2="802.10"/>
<line x1="719.09" y1="816.50" x2="719.09" y2="809.40"/>
<line x1="700.08" y1="816.50" x2="700.08" y2="809.40"/>
<line x1="686.60" y1="816.50" x2="686.60" y2="809.40"/>
<line x1="676.14" y1="816.50" x2="676.14" y2="809.40"/>
<line x1="667.59" y1="816.50" x2="667.59" y2="809.40"/>
<line x1="660.37" y1="816.50" x2="660.37" y2="809.40"/>
<line x1="654.11" y1="816.50" x2="654.11" y2="809.40"/>
<line x1="648.59" y1="816.50" x2="648.59" y2="809.40"/>
<line x1="751.58" y1="816.50" x2="751.58" y2="802.10"/>
<line x1="808.01" y1="816.50" x2="808.01" y2="809.40"/>
<line x1="794.53" y1="816.50" x2="794.53" y2="809.40"/>
<line x1="784.07" y1="816.50" x2="784.07" y2="809.40"/>
<line x1="775.52" y1="816.50" x2="775.52" y2="809.40"/>
<line x1="768.30" y1="816.50" x2="768.30" y2="809.40"/>
<line x1="762.04" y1="816.50" x2="762.04" y2="809.40"/>
<line x1="756.52" y1="816.50" x2="756.52" y2="809.40"/>
<line x1="123.10" y1="93.50" x2="123.10" y2="107.90"/>
<line x1="198.54" y1="93.50" x2="198.54" y2="100.60"/>
<line x1="179.53" y1="93.50" x2="179.53" y2="100.60"/>
<line x1="166.05" y1="93.50" x2="166.05" y2="100.60"/>
<line x1="155.59" y1="93.50" x2="155.59" y2="100.60"/>
<line x1="147.04" y1="93.50" x2="147.04" y2="100.60"/>
<line x1="139.82" y1="93.50" x2="139.82" y2="100.60"/>
<line x1="133.56" y1="93.50" x2="133.56" y2="100.60"/>
<line x1="128.04" y1="93.50" x2="128.04" y2="100.60"/>
<line x1="231.03" y1="93.50" x2="231.03" y2="107.90"/>
<line x1="306.47" y1="93.50" x2="306.47" y2="100.60"/>
<line x1="287.46" y1="93.50" x2="287.46" y2="100.60"/>
<line x1="273.98" y1="93.50" x2="273.98" y2="100.60"/>
<line x1="263.52" y1="93.50" x2="263.52" y2="100.60"/>
<line x1="254.97" y1="93.50" x2="254.97" y2="100.60"/>
<line x1="247.75" y1="93.50" x2="247.75" y2="100.60"/>
<line x1="241.49" y1="93.50" x2="241.49" y2="100.60"/>
<line x1="235.97" y1="93.50" x2="235.97" y2="100.60"/>
<line x1="338.96" y1="93.50" x2="338.96" y2="107.90"/>
<line x1="414.40" y1="93.50" x2="414.40" y2="100.60"/>
<line x1="395.39" y1="93.50" x2="395.39" y2="100.60"/>
<line x1="381.91" y1="93.50" x2="381.91" y2="100.60"/>
<line x1="371.45" y1="93.50" x2="371.45" y2="100.60"/>
<line x1="362.90" y1="93.50" x2="362.90" y2="100.60"/>
<line x1="355.68" y1="93.50" x2="355.68" y2="100.60"/>
<line x1="349.42" y1="93.50" x2="349.42" y2="100.60"/>
<line x1="343.90" y1="93.50" x2="343.90" y2="100.60"/>
<line x1="446.89" y1="93.50" x2="446.89" y2="107.90"/>
<line x1="522.33" y1="93.50" x2="522.33" y2="100.60"/>
<line x1="503.32" y1="93.50" x2="503.32" y2="100.60"/>
<line x1="489.84" y1="93.50" x2="489.84" y2="100.60"/>
<line x1="479.38" y1="93.50" x2="479.38" y2="100.60"/>
<line x1="470.83" y1="93.50" x2="470.83" y2="100.60"/>
<line x1="463.61" y1="93.50" x2="463.61" y2="100.60"/>
<line x1="457.35" y1="93.50" x2="457.35" y2="100.60"/>
<line x1="451.83" y1="93.50" x2="451.83" y2="100.60"/>
<line x1="554.82" y1="93.50" x2="554.82" y2="107.90"/>
<line x1="630.26" y1="93.50" x2="630.26" y2="100.60"/>
<line x1="611.25" y1="93.50" x2="611.25" y2="100.60"/>
<line x1="597.77" y1="93.50" x2="597.77" y2="100.60"/>
<line x1="587.31" y1="93.50" x2="587.31" y2="100.60"/>
<line x1="578.76" y1="93.50" x2="578.76" y2="100.60"/>
<line x1="571.54" y1="93.50" x2="571.54" y2="100.60"/>
<line x1="565.28" y1="93.50" x2="565.28" y2="100.60"/>
<line x1="559.76" y1="93.50" x2="559.76" y2="100.60"/>
<line x1="662.75" y1="93.50" x2="662.75" y2="107.90"/>
<line x1="738.19" y1="93.50" x2="738.19" y2="100.60"/>
<line x1="719.18" y1="93.50" x2="719.18" y2="100.60"/>
<line x1="705.70" y1="93.50" x2="705.70" y2="100.60"/>
<line x1="695.24" y1="93.50" x2="695.24" y2="100.60"/>
<line x1="686.69" y1="93.50" x2="686.69" y2="100.60"/>
<line x1="679.47" y1="93.50" x2="679.47" y2="100.60"/>
<line x1="673.21" y1="93.50" x2="673.21" y2="100.60"/>
<line x1="667.69" y1="93.50" x2="667.69" y2="100.60"/>
<line x1="770.68" y1="93.50" x2="770.68" y2="107.90"/>
<line x1="813.63" y1="93.50" x2="813.63" y2="100.60"/>
<line x1="803.17" y1="93.50" x2="803.17" y2="100.60"/>
<line x1="794.62" y1="93.50" x2="794.62" y2="100.60"/>
<line x1="787.40" y1="93.50" x2="787.40" y2="100.60"/>
<line x1="781.14" y1="93.50" x2="781.14" y2="100.60"/>
<line x1="775.62" y1="93.50" x2="775.62" y2="100.60"/>
<line x1="104.00" y1="794.60" x2="118.40" y2="794.60"/>
<line x1="827.00" y1="794.60" x2="812.60" y2="794.60"/>
<line x1="104.00" y1="772.69" x2="111.10" y2="772.69"/>
<line x1="827.00" y1="772.69" x2="819.90" y2="772.69"/>
<line x1="104.00" y1="750.78" x2="111.10" y2="750.78"/>
<line x1="827.00" y1="750.78" x2="819.90" y2="750.78"/>
<line x1="104.00" y1="728.87" x2="111.10" y2="728.87"/>
<line x1="827.00" y1="728.87" x2="819.90" y2="728.87"/>
<line x1="104.00" y1="706.96" x2="111.10" y2="706.96"/>
<line x1="827.00" y1="706.96" x2="819.90" y2="706.96"/>
<line x1="104.00" y1="685.06" x2="118.40" y2="685.06"/>
<line x1="827.00" y1="685.06" x2="812.60" y2="685.06"/>
<line x1="104.00" y1="663.15" x2="111.10" y2="663.15"/>
<line x1="827.00" y1="663.15" x2="819.90" y2="663.15"/>
<line x1="104.00" y1="641.24" x2="111.10" y2="641.24"/>
<line x1="827.00" y1="641.24" x2="819.90" y2="641.24"/>
<line x1="104.00" y1="619.33" x2="111.10" y2="619.33"/>
<line x1="827.00" y1="619.33" x2="819.90" y2="619.33"/>
<line x1="104.00" y1="597.42" x2="111.10" y2="597.42"/>
<line x1="827.00" y1="597.42" x2="819.90" y2="597.42"/>
<line x1="104.00" y1="575.51" x2="118.40" y2="575.51"/>
<line x1="827.00" y1="575.51" x2="812.60" y2="575.51"/>
<line x1="104.00" y1="553.60" x2="111.10" y2="553.60"/>
<line x1="827.00" y1="553.60" x2="819.90" y2="553.60"/>
<line x1="104.00" y1="531.69" x2="111.10" y2="531.69"/>
<line x1="827.00" y1="531.69" x2="819.90" y2="531.69"/>
<line x1="104.00" y1="509.78" x2="111.10" y2="509.78"/>
<line x1="827.00" y1="509.78" x2="819.90" y2="509.78"/>
<line x1="104.00" y1="487.87" x2="111.10" y2="487.87"/>
<line x1="827.00" y1="487.87" x2="819.90" y2="487.87"/>
<line x1="104.00" y1="465.97" x2="118.40" y2="465.97"/>
<line x1="827.00" y1="465.97" x2="812.60" y2="465.97"/>
<line x1="104.00" y1="444.06" x2="111.10" y2="444.06"/>
<line x1="827.00" y1="444.06" x2="819.90" y2="444.06"/>
<line x1="104.00" y1="422.15" x2="111.10" y2="422.15"/>
<line x1="827.00" y1="422.15" x2="819.90" y2="422.15"/>
<line x1="104.00" y1="400.24" x2="111.10" y2="400.24"/>
<line x1="827.00" y1="400.24" x2="819.90" y2="400.24"/>
<line x1="104.00" y1="378.33" x2="111.10" y2="378.33"/>
<line x1="827.00" y1="378.33" x2="819.90" y2="378.33"/>
<line x1="104.00" y1="356.42" x2="118.40" y2="356.42"/>
<line x1="827.00" y1="356.42" x2="812.60" y2="356.42"/>
<line x1="104.00" y1="334.51" x2="111.10" y2="334.51"/>
<line x1="827.00" y1="334.51" x2="819.90" y2="334.51"/>
<line x1="104.00" y1="312.60" x2="111.10" y2="312.60"/>
<line x1="827.00" y1="312.60" x2="819.90" y2="312.60"/>
<line x1="104.00" y1="290.69" x2="111.10" y2="290.69"/>
<line x1="827.00" y1="290.69" x2="819.90" y2="290.69"/>
<line x1="104.00" y1="268.78" x2="111.10" y2="268.78"/>
<line x1="827.00" y1="268.78" x2="819.90" y2="268.78"/>
<line x1="104.00" y1="246.88" x2="118.40" y2="246.88"/>
<line x1="827.00" y1="246.88" x2="812.60" y2="246.88"/>
<line x1="104.00" y1="224.97" x2="111.10" y2="224.97"/>
<line x1="827.00" y1="224.97" x2="819.90" y2="224.97"/>
<line x1="104.00" y1="203.06" x2="111.10" y2="203.06"/>
<line x1="827.00" y1="203.06" x2="819.90" y2="203.06"/>
<line x1="104.00" y1="181.15" x2="111.10" y2="181.15"/>
<line x1="827.00" y1="181.15" x2="819.90" y2="181.15"/>
<line x1="104.00" y1="159.24" x2="111.10" y2="159.24"/>
<line x1="827.00" y1="159.24" x2="819.90" y2="159.24"/>
<line x1="104.00" y1="137.33" x2="118.40" y2="137.33"/>
<line x1="827.00" y1="137.33" x2="812.60" y2="137.33"/>
<line x1="104.00" y1="115.42" x2="111.10" y2="115.42"/>
<line x1="827.00" y1="115.42" x2="819.90" y2="115.42"/>
</g>
<g font-family='"Liberation Serif", serif' style="font-kerning:none" fill="#000" stroke="#fff" stroke-width="0.36" stroke-linejoin="round">
<text transform="translate(99.82 79.60) scale(0.9911 1.0090)" font-size="34.47">10</text>
<text transform="translate(133.17 67.60) scale(1.0041 0.9959)" font-size="24.64" stroke-width="0.30">4</text>
<text transform="translate(207.75 79.60) scale(0.9911 1.0090)" font-size="34.47">10</text>
<text transform="translate(240.25 67.60) scale(1.0683 0.9360)" font-size="26.06" stroke-width="0.30">3</text>
<text transform="translate(315.68 79.60) scale(0.9911 1.0090)" font-size="34.47">10</text>
<text transform="translate(348.25 67.60) scale(1.0845 0.9221)" font-size="26.45" stroke-width="0.30">2</text>
<text transform="translate(423.61 79.60) scale(0.9911 1.0090)" font-size="34.47">10</text>
<text transform="translate(457.74 67.60) scale(0.8886 1.1254)" font-size="21.74" stroke-width="0.30">1</text>
<text transform="translate(531.54 79.60) scale(0.9911 1.0090)" font-size="34.47">10</text>
<text transform="translate(564.34 67.60) scale(1.0570 0.9460)" font-size="25.67" stroke-width="0.30">0</text>
<text transform="translate(631.27 79.60) scale(0.9911 1.0090)" font-size="34.47">10</text>
<text transform="translate(664.37 67.60) scale(1.2566 1.0000)" font-size="23.60" stroke-width="0.00">−</text>
<text transform="translate(679.90 67.60) scale(0.8886 1.1254)" font-size="21.74" stroke-width="0.30">1</text>
<text transform="translate(739.20 79.60) scale(0.9911 1.0090)" font-size="34.47">10</text>
<text transform="translate(772.30 67.60) scale(1.2566 1.0000)" font-size="23.60" stroke-width="0.00">−</text>
<text transform="translate(788.04 67.60) scale(1.0558 0.9471)" font-size="25.75" stroke-width="0.30">2</text>
<text transform="translate(74.82 858.60) scale(0.9911 1.0090)" font-size="34.47">10</text>
<text transform="translate(108.32 846.60) scale(0.9715 1.0293)" font-size="23.77" stroke-width="0.30">14</text>
<text transform="translate(182.75 858.60) scale(0.9911 1.0090)" font-size="34.47">10</text>
<text transform="translate(216.20 846.60) scale(0.9859 1.0143)" font-size="24.05" stroke-width="0.30">13</text>
<text transform="translate(290.68 858.60) scale(0.9911 1.0090)" font-size="34.47">10</text>
<text transform="translate(324.09 846.60) scale(0.9952 1.0049)" font-size="24.27" stroke-width="0.30">12</text>
<text transform="translate(398.61 858.60) scale(0.9911 1.0090)" font-size="34.47">10</text>
<text transform="translate(432.00 846.60) scale(0.9965 1.0035)" font-size="24.38" stroke-width="0.30">11</text>
<text transform="translate(506.54 858.60) scale(0.9911 1.0090)" font-size="34.47">10</text>
<text transform="translate(539.99 846.60) scale(0.9876 1.0126)" font-size="23.98" stroke-width="0.30">10</text>
<text transform="translate(620.37 858.60) scale(0.9911 1.0090)" font-size="34.47">10</text>
<text transform="translate(653.33 846.60) scale(1.0511 0.9514)" font-size="25.64" stroke-width="0.30">9</text>
<text transform="translate(728.30 858.60) scale(0.9911 1.0090)" font-size="34.47">10</text>
<text transform="translate(761.10 846.60) scale(1.0570 0.9460)" font-size="25.67" stroke-width="0.30">8</text>
<text transform="translate(41.92 809.30) scale(0.9911 1.0090)" font-size="34.47">10</text>
<text transform="translate(75.37 797.30) scale(0.9876 1.0126)" font-size="23.98" stroke-width="0.30">10</text>
<text transform="translate(41.92 699.76) scale(0.9911 1.0090)" font-size="34.47">10</text>
<text transform="translate(75.37 687.76) scale(0.9845 1.0158)" font-size="24.08" stroke-width="0.30">15</text>
<text transform="translate(41.92 590.21) scale(0.9911 1.0090)" font-size="34.47">10</text>
<text transform="translate(74.66 578.21) scale(1.0091 0.9910)" font-size="24.51" stroke-width="0.30">20</text>
<text transform="translate(41.92 480.67) scale(0.9911 1.0090)" font-size="34.47">10</text>
<text transform="translate(74.66 468.67) scale(1.0074 0.9926)" font-size="24.57" stroke-width="0.30">25</text>
<text transform="translate(41.92 371.12) scale(0.9911 1.0090)" font-size="34.47">10</text>
<text transform="translate(74.56 359.12) scale(1.0113 0.9889)" font-size="24.56" stroke-width="0.30">30</text>
<text transform="translate(41.92 261.57) scale(0.9911 1.0090)" font-size="34.47">10</text>
<text transform="translate(74.56 249.57) scale(1.0096 0.9905)" font-size="24.63" stroke-width="0.30">35</text>
<text transform="translate(41.92 152.03) scale(0.9911 1.0090)" font-size="34.47">10</text>
<text transform="translate(75.28 140.03) scale(0.9959 1.0041)" font-size="24.19" stroke-width="0.30">40</text>
<text transform="translate(359.93 27.80) scale(0.9843 1.0159)" font-size="32.08">2</text>
<text transform="translate(382.99 27.80) scale(1.0063 0.9937)" font-size="29.71" stroke-width="0.10" font-style="italic">π</text>
<text transform="translate(401.68 28.03) scale(0.9161 0.9699)" font-size="34.00" stroke-width="0.70">(</text>
<text transform="translate(415.51 28.37) scale(0.9182 1.0890)" font-size="27.52" stroke-width="0.10" font-style="italic">q</text>
<text transform="translate(434.09 27.80) scale(0.9897 1.0104)" font-size="31.69" stroke-width="0.13" font-style="italic">D</text>
<text transform="translate(457.42 28.03) scale(0.9390 0.9699)" font-size="34.00" stroke-width="0.70">)</text>
<text transform="translate(467.44 15.90) scale(1.2384 1.0000)" font-size="23.60" stroke-width="0.00">−</text>
<text transform="translate(482.89 15.90) scale(0.9109 1.0978)" font-size="20.64" stroke-width="0.12">1</text>
<text transform="translate(500.40 29.78) scale(1.0383 1.0114)" font-size="34.00">[</text>
<text transform="translate(512.77 27.98) scale(1.0943 0.9138)" font-size="33.71" stroke-width="0.13" font-style="italic">μ</text>
<text transform="translate(530.15 28.08) scale(1.0785 0.9272)" font-size="33.55">as</text>
<text transform="translate(559.86 29.78) scale(1.0251 1.0114)" font-size="34.00">]</text>
<text transform="translate(408.34 907.70) scale(0.9306 1.0746)" font-size="29.15" stroke-width="0.13" font-style="italic">q</text>
<text transform="translate(422.12 895.30) scale(1.2566 1.0000)" font-size="23.60" stroke-width="0.00">−</text>
<text transform="translate(438.79 895.30) scale(0.9109 1.0978)" font-size="20.64" stroke-width="0.12">1</text>
<text transform="translate(455.23 909.21) scale(1.0251 1.0043)" font-size="34.00">[</text>
<text transform="translate(465.16 907.48) scale(1.0709 0.9338)" font-size="33.31">cm</text>
<text transform="translate(508.74 909.21) scale(1.0383 1.0043)" font-size="34.00">]</text>
<g transform="translate(24 482.3) rotate(-90)">
<path fill="#000" stroke="none" fill-rule="evenodd" d="M17.66,-6.62 L18.61,-8.10 L19.41,-9.63 L20.07,-11.20 L20.57,-12.77 L20.90,-14.31 L21.06,-15.81 L21.04,-17.24 L20.84,-18.57 L20.47,-19.78 L19.93,-20.84 L19.23,-21.75 L18.39,-22.48 L17.41,-23.02 L16.32,-23.36 L15.14,-23.51 L13.87,-23.44 L12.56,-23.18 L11.21,-22.71 L9.85,-22.05 L8.51,-21.21 L7.21,-20.20 L5.96,-19.05 L4.80,-17.77 L3.74,-16.38 L2.79,-14.90 L1.99,-13.37 L1.33,-11.80 L0.83,-10.23 L0.50,-8.69 L0.34,-7.19 L0.36,-5.76 L0.56,-4.43 L0.93,-3.22 L1.47,-2.16 L2.17,-1.25 L3.01,-0.52 L3.99,0.02 L5.08,0.36 L6.26,0.51 L7.53,0.44 L8.84,0.18 L10.19,-0.29 L11.55,-0.95 L12.89,-1.79 L14.19,-2.80 L15.44,-3.95 L16.60,-5.23Z M16.23,-7.34 L17.05,-8.60 L17.76,-9.90 L18.37,-11.22 L18.85,-12.53 L19.19,-13.81 L19.41,-15.05 L19.47,-16.21 L19.40,-17.28 L19.19,-18.24 L18.84,-19.08 L18.35,-19.78 L17.75,-20.32 L17.03,-20.70 L16.21,-20.92 L15.30,-20.96 L14.32,-20.84 L13.29,-20.54 L12.22,-20.08 L11.14,-19.46 L10.05,-18.69 L8.98,-17.79 L7.95,-16.77 L6.98,-15.66 L6.07,-14.46 L5.25,-13.20 L4.54,-11.90 L3.93,-10.58 L3.45,-9.27 L3.11,-7.99 L2.89,-6.75 L2.83,-5.59 L2.90,-4.52 L3.11,-3.56 L3.46,-2.72 L3.95,-2.02 L4.55,-1.48 L5.27,-1.10 L6.09,-0.88 L7.00,-0.84 L7.98,-0.96 L9.01,-1.26 L10.08,-1.72 L11.16,-2.34 L12.25,-3.11 L13.32,-4.01 L14.35,-5.03 L15.32,-6.14Z"/>
<path fill="none" stroke="#000" stroke-width="1.1" stroke-linecap="round" d="M8.6,-2.0 C7.4,-3.9 9.6,-5.6 10.8,-4.0 C11.8,-2.6 11.3,1.0 12.4,2.9"/>
<path fill="none" stroke="#000" stroke-width="2.7" stroke-linecap="round" d="M12.6,3.2 C13.4,4.6 15.4,4.7 16.6,3.4"/>
<path fill="none" stroke="#000" stroke-width="1.2" stroke-linecap="round" d="M16.6,3.4 C17.8,2.0 18.4,0.4 18.0,-1.0"/>
<text transform="translate(20.15 -0.86) scale(1.1681 0.9472)" font-size="34.00" stroke-width="0.80">(</text>
<text transform="translate(33.90 -0.33) scale(0.9778 1.0227)" font-size="29.31" stroke-width="0.10" font-style="italic">q</text>
<text transform="translate(46.31 -0.86) scale(1.1795 0.9472)" font-size="34.00" stroke-width="0.80">)</text>
</g>
<text transform="translate(128.67 167.10) scale(1.0208 0.9796)" font-size="26.86" fill="#e00000" stroke-width="0.24">3.6</text>
<text transform="translate(167.51 167.10) scale(1.0678 0.9365)" font-size="26.33" fill="#e00000" stroke-width="0.24">cm</text>
<text transform="translate(211.96 227.60) scale(1.0233 0.9772)" font-size="26.92" fill="#e00000" stroke-width="0.24">1.3</text>
<text transform="translate(250.63 227.60) scale(1.0563 0.9467)" font-size="26.05" fill="#e00000" stroke-width="0.24">cm</text>
<text transform="translate(135.70 247.80) scale(1.2552 0.7967)" font-size="35.48" fill="#e00000" stroke-width="0.55" font-style="italic">σ</text>
<text transform="translate(159.57 253.20) scale(1.0683 0.9361)" font-size="22.09" fill="#e00000" stroke-width="0.12">ref</text>
<g stroke="#def2de">
<text transform="translate(319.80 157.90) scale(1.0258 0.9749)" font-size="35.79" fill="#008000" stroke-width="0.29">EHT</text>
</g>
<text transform="translate(600.44 158.00) scale(1.0319 0.9691)" font-size="33.43" stroke-width="0.13" font-style="italic">r</text>
<text transform="translate(614.34 162.90) scale(0.9930 1.0070)" font-size="23.79" stroke-width="0.12">in</text>
<text transform="translate(633.19 162.60) scale(1.1251 1.0235)" font-size="34.00" stroke="#000" stroke-width="0.35">=</text>
<text transform="translate(654.65 158.00) scale(0.9997 1.0003)" font-size="33.34">800</text>
<text transform="translate(709.57 158.00) scale(1.0049 0.9952)" font-size="34.15">km</text>
<text transform="translate(616.08 512.10) scale(1.0410 0.9606)" font-size="34.54" fill="#0000a8" stroke-width="0.10" font-style="italic">α</text>
<text transform="translate(641.19 513.03) scale(1.1251 0.8706)" font-size="34.00" fill="#0000a8" stroke="#0000a8" stroke-width="0.35">=</text>
<text transform="translate(667.07 512.10) scale(1.0388 0.9627)" font-size="32.71" fill="#0000a8" stroke-width="0.29">1.38</text>
<text transform="translate(554.88 612.70) scale(1.0410 0.9606)" font-size="34.54" fill="#800080" stroke-width="0.10" font-style="italic">α</text>
<text transform="translate(579.99 613.63) scale(1.1251 0.8706)" font-size="34.00" fill="#800080" stroke="#800080" stroke-width="0.35">=</text>
<text transform="translate(605.81 612.70) scale(1.0288 0.9720)" font-size="32.54" fill="#800080" stroke-width="0.29">1.67</text>
<text transform="translate(488.68 722.40) scale(1.0410 0.9606)" font-size="34.54" fill="#505050" stroke-width="0.10" font-style="italic">α</text>
<text transform="translate(513.79 723.33) scale(1.1251 0.8706)" font-size="34.00" fill="#505050" stroke="#505050" stroke-width="0.35">=</text>
<text transform="translate(540.10 722.40) scale(1.0317 0.9693)" font-size="34.51" fill="#505050" stroke-width="0.29">0</text>
<text transform="translate(698.73 569.20) scale(0.9567 1.0453)" font-size="30.44" fill="#e8801a" stroke-width="0.10" font-style="italic">θ</text>
<text transform="translate(713.35 573.42) scale(1.0141 0.9861)" font-size="24.88" fill="#e8801a" stroke-width="0.24">img</text>
</g>
</svg>
</body></html>
